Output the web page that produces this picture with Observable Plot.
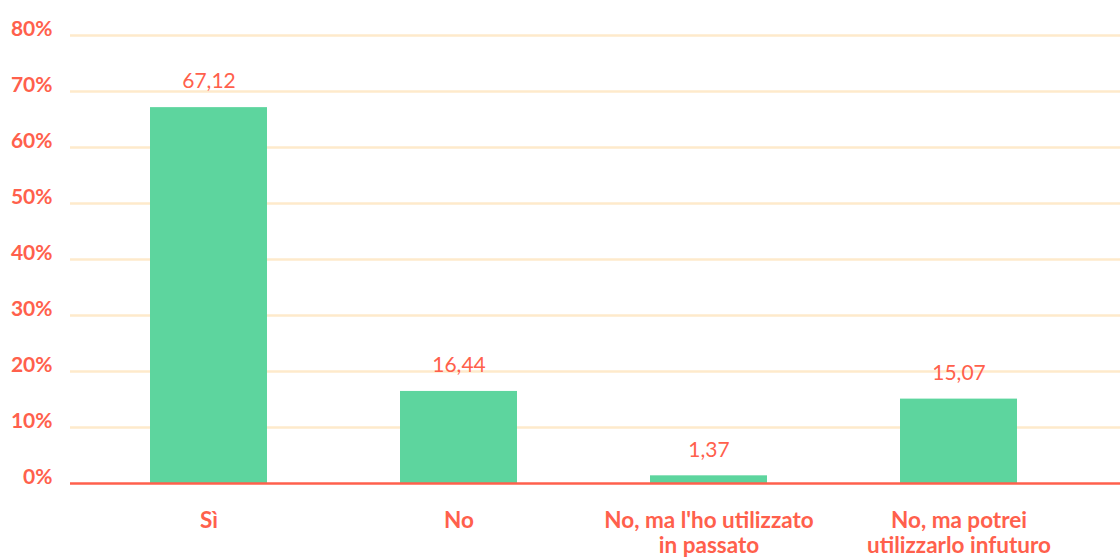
<!DOCTYPE html>
<html>
<head>
<meta charset="utf-8">
<script src="https://cdn.jsdelivr.net/npm/d3@7"></script>
<script src="https://cdn.jsdelivr.net/npm/@observablehq/plot@0.6"></script>
<style>
  html, body { margin: 0; padding: 0; background: #fff; }
  svg { display: block; }
</style>
</head>
<body>
<div id="chart"></div>
<script>
const categories = ["Sì", "No", "No, ma l'ho utilizzato\nin passato", "No, ma potrei\nutilizzarlo infuturo"];
const values = [67.12, 16.44, 1.37, 15.07];
const yTicks = [0, 10, 20, 30, 40, 50, 60, 70, 80];

const data = categories.map((c, i) => ({ category: c, value: values[i] }));
const coral = "#ff604c";
const fmt = v => v.toFixed(2).replace(".", ",");

const chart = Plot.plot({
  width: 1120,
  height: 559,
  marginLeft: 70,
  marginRight: 0,
  marginTop: 35,
  marginBottom: 76,
  style: { fontFamily: "Lato, 'Open Sans', sans-serif", background: "#fff" },
  x: { domain: categories, range: [83.5, 1083.5], paddingInner: 0.532, paddingOuter: 0.266, label: null },
  y: { domain: [0, 80], label: null },
  marks: [
    Plot.ruleY(yTicks.filter(d => d > 0), { stroke: "#feeacb", strokeWidth: 2.5 }),
    Plot.barY(data, { x: "category", y: "value", fill: "#5dd59e" }),
    Plot.ruleY([0], { stroke: coral, strokeWidth: 2.5 }),
    Plot.text(data, { x: "category", y: "value", text: d => fmt(d.value), dy: -26, fill: coral, fontSize: 21 }),
    Plot.axisY({ ticks: yTicks, tickFormat: d => d + "%", tickSize: 0, tickPadding: 18, dy: -6, fill: coral, fontSize: 21, fontWeight: "bold" }),
    Plot.axisX({ tickSize: 0, tickPadding: 27, fill: coral, fontSize: 22.5, fontWeight: "bold", lineHeight: 1.11, textAnchor: "middle" })
  ]
});
document.getElementById("chart").appendChild(chart);
</script>
</body>
</html>
